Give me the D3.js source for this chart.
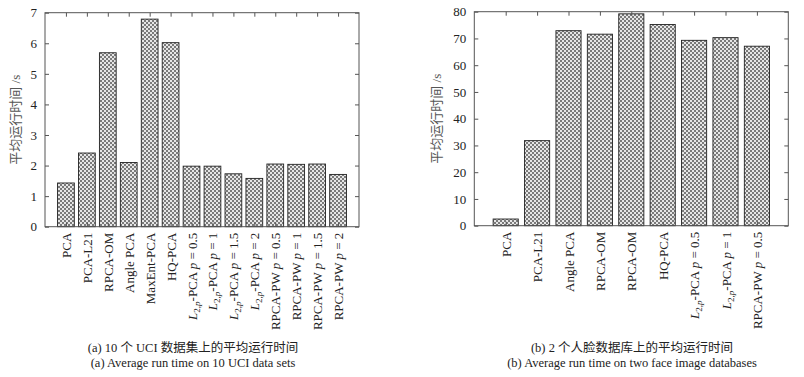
<!DOCTYPE html>
<html>
<head>
<meta charset="utf-8">
<script src="https://cdn.jsdelivr.net/npm/d3@7"></script>
<style>
  body { margin: 0; background: #fff; }
  svg { font-family: "Liberation Serif", "Noto Sans CJK SC", serif; }
</style>
</head>
<body>
<svg id="chart" width="804" height="377"></svg>
<script>
// panel (a): 10 UCI data sets
const labelsA = ["PCA", "PCA-L21", "RPCA-OM", "Angle PCA", "MaxEnt-PCA", "HQ-PCA",
  "L2p-PCA p = 0.5", "L2p-PCA p = 1", "L2p-PCA p = 1.5", "L2p-PCA p = 2",
  "RPCA-PW p = 0.5", "RPCA-PW p = 1", "RPCA-PW p = 1.5", "RPCA-PW p = 2"];
const valuesA = [1.43, 2.41, 5.69, 2.10, 6.79, 6.02, 1.98, 1.98, 1.73, 1.58, 2.05, 2.04, 2.05, 1.71];
const ticksA = [0, 1, 2, 3, 4, 5, 6, 7];

// panel (b): 2 face databases
const labelsB = ["PCA", "PCA-L21", "Angle PCA", "RPCA-OM", "RPCA-OM", "HQ-PCA",
  "L2p-PCA p = 0.5", "L2p-PCA p = 1", "RPCA-PW p = 0.5"];
const valuesB = [2.5, 31.8, 72.9, 71.6, 79.2, 75.2, 69.3, 70.3, 67.1];
const ticksB = [0, 10, 20, 30, 40, 50, 60, 70, 80];

const yTitle = "平均运行时间 /s";
const captionsA = ["(a) 10 个 UCI 数据集上的平均运行时间", "(a) Average run time on 10 UCI data sets"];
const captionsB = ["(b) 2 个人脸数据库上的平均运行时间", "(b) Average run time on two face image databases"];

const svg = d3.select("#chart");

// checker hatch like the matlab print
const defs = svg.append("defs");
const pat = defs.append("pattern")
  .attr("id", "hatch")
  .attr("patternUnits", "userSpaceOnUse")
  .attr("width", 4).attr("height", 4);
pat.append("rect").attr("width", 4).attr("height", 4).attr("fill", "#e6e6e6");
pat.append("rect").attr("width", 2).attr("height", 2).attr("fill", "#7a7a7a");
pat.append("rect").attr("x", 2).attr("y", 2).attr("width", 2).attr("height", 2).attr("fill", "#7a7a7a");

function writeLabel(text, label) {
  let rest = label;
  if (label.startsWith("L2p")) {
    text.append("tspan").attr("font-style", "italic").text("L");
    text.append("tspan").attr("font-size", 9).attr("dy", 3).text("2,");
    text.append("tspan").attr("font-size", 9).attr("font-style", "italic").text("p");
    text.append("tspan").attr("dy", -3).text("-");
    rest = label.slice(4);
  }
  const parts = rest.split(" p = ");
  text.append("tspan").text(parts[0] + (parts.length > 1 ? " " : ""));
  if (parts.length > 1) {
    text.append("tspan").attr("font-style", "italic").text("p");
    text.append("tspan").text(" = " + parts[1]);
  }
}

function drawPanel(cfg) {
  const x = d3.scaleLinear().domain([0, cfg.labels.length + 1]).range([cfg.left, cfg.right]);
  const y = d3.scaleLinear().domain([0, cfg.ymax]).range([cfg.bottom, cfg.top]);
  const bw = x(0.8) - x(0);
  const g = svg.append("g");

  g.selectAll(".bar")
    .data(cfg.values)
    .join("rect")
      .attr("class", "bar")
      .attr("x", (d, i) => x(i + 1) - bw / 2)
      .attr("y", d => y(d))
      .attr("width", bw)
      .attr("height", d => y(0) - y(d))
      .attr("fill", "url(#hatch)")
      .attr("stroke", "#222")
      .attr("stroke-width", 0.9);

  const xt = d3.range(1, cfg.labels.length + 1);
  const axisColor = "#555";

  // ticks inward on all four sides
  g.append("g").attr("transform", `translate(0,${cfg.bottom})`)
    .call(d3.axisBottom(x).tickValues(xt).tickSize(-4).tickFormat(""));
  g.append("g").attr("transform", `translate(0,${cfg.top})`)
    .call(d3.axisTop(x).tickValues(xt).tickSize(-4).tickFormat(""));
  g.append("g").attr("transform", `translate(${cfg.left},0)`)
    .call(d3.axisLeft(y).tickValues(cfg.ticks).tickSize(-4).tickPadding(8).tickFormat(d3.format("d")))
    .call(a => a.selectAll("text").attr("font-size", 13).attr("font-family", "Liberation Serif").attr("fill", "#222"));
  g.append("g").attr("transform", `translate(${cfg.right},0)`)
    .call(d3.axisRight(y).tickValues(cfg.ticks).tickSize(-4).tickFormat(""));
  g.selectAll(".domain").remove();
  g.selectAll(".tick line").attr("stroke", axisColor);

  g.append("rect")
    .attr("x", cfg.left).attr("y", cfg.top)
    .attr("width", cfg.right - cfg.left).attr("height", cfg.bottom - cfg.top)
    .attr("fill", "none").attr("stroke", axisColor).attr("stroke-width", 1);

  // rotated category labels
  cfg.labels.forEach((lab, i) => {
    const t = g.append("text")
      .attr("transform", `translate(${x(i + 1) + 5},${cfg.bottom + 6}) rotate(-90)`)
      .attr("text-anchor", "end")
      .attr("font-size", 13)
      .attr("fill", "#222");
    writeLabel(t, lab);
  });

  g.append("text")
    .attr("transform", `translate(${cfg.titleX},${(cfg.top + cfg.bottom) / 2}) rotate(-90)`)
    .attr("text-anchor", "middle")
    .attr("font-size", 13)
    .attr("fill", "#555")
    .text(yTitle);

  cfg.captions.forEach((c, i) => {
    g.append("text")
      .attr("x", cfg.capX).attr("y", 352 + i * 15)
      .attr("text-anchor", "middle")
      .attr("font-size", 12.5)
      .attr("fill", "#222")
      .text(c);
  });
}

drawPanel({ labels: labelsA, values: valuesA, ticks: ticksA, ymax: 7,
  left: 45, right: 359, top: 12.7, bottom: 226.7, titleX: 20, capX: 193, captions: captionsA });
drawPanel({ labels: labelsB, values: valuesB, ticks: ticksB, ymax: 80,
  left: 474.3, right: 788.3, top: 11.7, bottom: 225.7, titleX: 441, capX: 632, captions: captionsB });
</script>
</body>
</html>
